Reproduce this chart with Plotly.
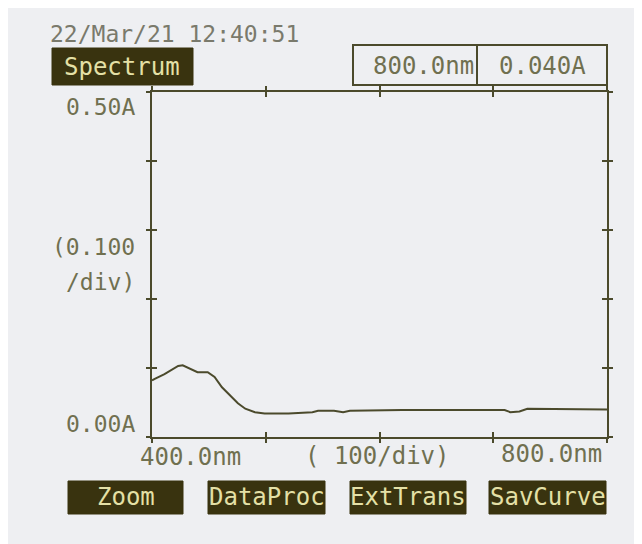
import plotly.graph_objects as go

# ---- data ----
wavelength_nm = [400, 402, 411, 423, 427, 436, 440, 449, 455, 461.5, 468.5, 475.5, 482, 490.5,
                 499, 520, 541, 546, 560, 568, 574, 620, 680, 710, 715, 723, 730, 760, 800]
absorbance_A = [0.082, 0.084, 0.091, 0.103, 0.104, 0.097, 0.094, 0.094, 0.087, 0.072, 0.060,
                0.049, 0.041, 0.036, 0.034, 0.034, 0.036, 0.038, 0.038, 0.036, 0.038, 0.039,
                0.039, 0.039, 0.036, 0.037, 0.041, 0.041, 0.040]
x_ticks = [400, 500, 600, 700, 800]
y_ticks = [0.0, 0.1, 0.2, 0.3, 0.4, 0.5]
header_text = "22/Mar/21 12:40:51"
cursor_wl = "800.0nm"
cursor_abs = "0.040A"
buttons = ["Zoom", "DataProc", "ExtTrans", "SavCurve"]

W, H = 642, 544
OFF = 8                      # page offset of the figure inside the window
L, R, T, B = 152, 607, 92, 437  # plot area in window pixels

def px(x):
    return (x - L) / (R - L)

def py(y):
    return (B - y) / (B - T)

INK = "#4b4a2c"
TXT = "#707050"
DATE_TXT = "#7a7a6c"
BTN_BG = "#39330f"
BTN_TXT = "#e4e0a6"
BG = "#eeeff2"
MONO = "DejaVu Sans Mono"

fig = go.Figure()
fig.add_trace(go.Scatter(x=wavelength_nm, y=absorbance_A, mode="lines",
                         line=dict(color=INK, width=2), hoverinfo="skip", showlegend=False))
fig.add_trace(go.Scatter(x=[wavelength_nm[0]], y=[absorbance_A[0]], xaxis="x2", yaxis="y2",
                         mode="markers", marker=dict(opacity=0), hoverinfo="skip", showlegend=False))

axis_common = dict(showgrid=False, zeroline=False, showticklabels=False,
                   tickcolor=INK, tickwidth=2, ticklen=5)
fig.update_layout(
    xaxis=dict(range=[400, 800], tickvals=x_ticks, showline=True, linecolor=INK, linewidth=2,
               mirror="ticks", ticks="inside", **axis_common),
    yaxis=dict(range=[0, 0.5], tickvals=y_ticks, showline=True, linecolor=INK, linewidth=2,
               mirror="ticks", ticks="inside", **axis_common),
    xaxis2=dict(range=[400, 800], tickvals=x_ticks, overlaying="x", side="bottom",
                showline=False, mirror="ticks", ticks="outside", **axis_common),
    yaxis2=dict(range=[0, 0.5], tickvals=y_ticks, overlaying="y", side="left",
                showline=False, mirror="ticks", ticks="outside", **axis_common),
)

shapes = []
annotations = []

def text(x, y, s, size=23, color=TXT, xanchor="center", yanchor="middle"):
    annotations.append(dict(x=px(x), y=py(y), xref="paper", yref="paper", text=s, showarrow=False,
                            font=dict(family=MONO, size=size, color=color),
                            xanchor=xanchor, yanchor=yanchor))

def rect(x0, y0, x1, y1, fill=None, line=INK, lw=2):
    shapes.append(dict(type="rect", xref="paper", yref="paper", x0=px(x0), x1=px(x1),
                       y0=py(y1), y1=py(y0), fillcolor=fill if fill else "rgba(0,0,0,0)",
                       line=dict(color=line, width=lw), layer="above"))

# header
text(48, 34, header_text, 23, color=DATE_TXT, xanchor="left")
rect(52, 48, 193, 85, fill=BTN_BG, line=BTN_BG, lw=1)
text(122, 67, "Spectrum", 24, color=BTN_TXT)

# cursor readout box
rect(353, 45, 477, 85)
rect(477, 45, 607, 85)
text(423, 66, cursor_wl, 24)
text(542, 66, cursor_abs, 24)

# axis labels
text(137, 107, "0.50A", 23, xanchor="right")
text(137, 247, "(0.100", 23, xanchor="right")
text(137, 282, "/div)", 23, xanchor="right")
text(137, 424, "0.00A", 23, xanchor="right")
text(190, 457, "400.0nm", 24)
text(377, 456, "( 100/div)", 24)
text(604, 454, "800.0nm", 24, xanchor="right")

# soft-key buttons
btn_x = [(68, 183), (208, 325), (350, 466), (489, 606)]
for (x0, x1), label in zip(btn_x, buttons):
    rect(x0, 481, x1, 514, fill=BTN_BG, line=BTN_BG, lw=1)
    text((x0 + x1) / 2, 497, label, 24, color=BTN_TXT)

fig.update_layout(width=W, height=H,
                  margin=dict(l=L - OFF, r=W - (R - OFF), t=T - OFF, b=H - (B - OFF)),
                  paper_bgcolor=BG, plot_bgcolor=BG, shapes=shapes, annotations=annotations,
                  showlegend=False)

fig.write_html("out.html")
